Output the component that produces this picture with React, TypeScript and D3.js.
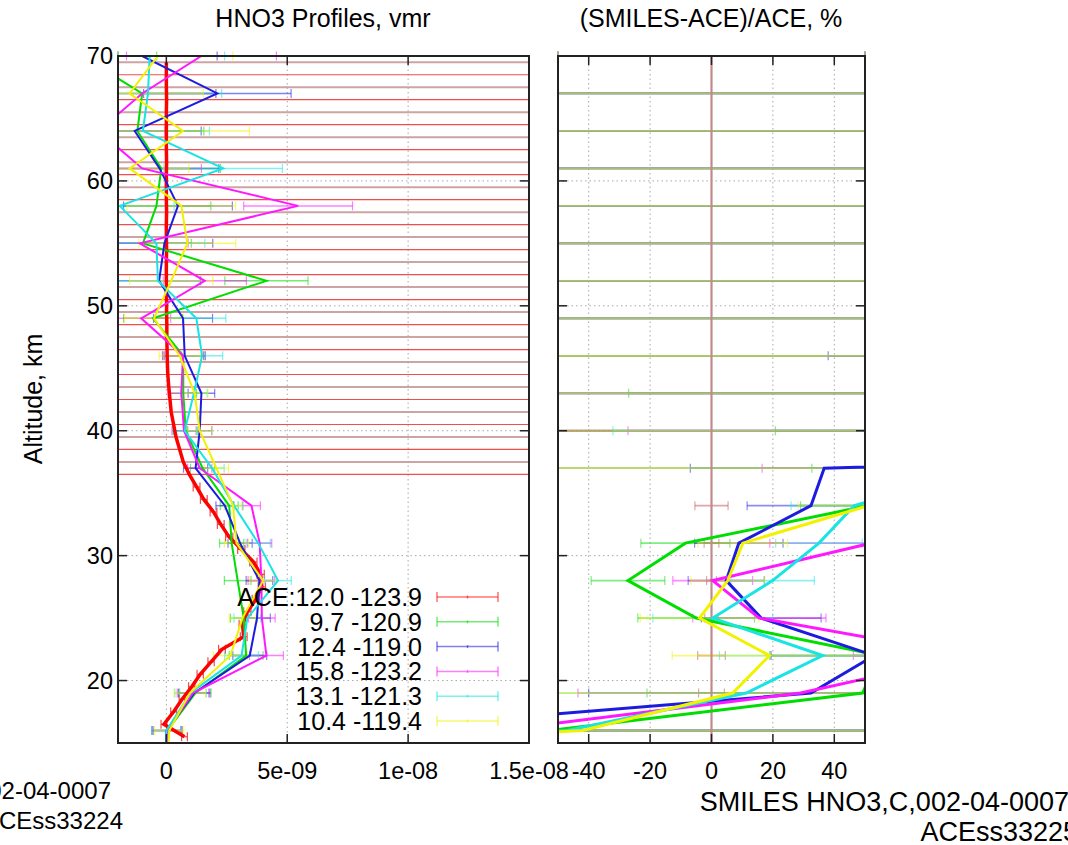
import React from "react";
import * as d3 from "d3";

// ---------------- DATA ----------------
const VMR_UNIT = 1e-9;

// ACE profile (red), values in units of 1e-9 vmr
const aceAlt = [15.5, 16.5, 17.5, 18.5, 19.5, 20.5, 21.5, 22.5, 23.5, 24.5, 25.5, 26.5, 27.5, 28.5, 29.5, 30.5, 31.5, 32.5, 33.5, 34.5, 35.5, 36.5, 37.5, 38.5, 39.5, 40.5, 41.5, 42.5, 43.5, 44.5, 45.5, 46.5, 47.5, 48.5, 49.5, 50.5, 51.5, 52.5, 53.5, 54.5, 55.5, 56.5, 57.5, 58.5, 59.5, 60.5, 61.5, 62.5, 63.5, 64.5, 65.5, 66.5, 67.5, 68.5, 69.5];
const aceVmr = [0.75, -0.1, 0.3, 0.65, 1.05, 1.4, 1.85, 2.3, 3.2, 3.15, 3.35, 3.7, 3.95, 3.9, 3.6, 3.1, 2.6, 2.25, 1.95, 1.55, 1.25, 0.95, 0.7, 0.55, 0.4, 0.3, 0.2, 0.15, 0.1, 0.06, 0.04, 0.03, 0.02, 0.02, 0.01, 0.01, 0.0, 0.0, 0.0, 0.01, 0.0, 0.0, 0.01, 0.0, 0.0, 0.0, 0.01, 0.0, 0.0, 0.0, 0.0, 0.01, 0.0, 0.0, 0.0];
const aceErr = [0.12, 0.12, 0.12, 0.12, 0.13, 0.13, 0.13, 0.14, 0.14, 0.14, 0.15, 0.15, 0.15, 0.15, 0.15, 0.15, 0.15, 0.14, 0.14, 0.14, 0.14, 40, 40, 40, 40, 40, 40, 40, 40, 40, 40, 40, 40, 40, 40, 40, 40, 40, 40, 40, 40, 40, 40, 40, 40, 40, 40, 40, 40, 40, 40, 40, 40, 40, 40];

// SMILES profiles (units of 1e-9 vmr)
const smilesAlt = [13, 16, 19, 22, 25, 28, 31, 34, 37, 40, 43, 46, 49, 52, 55, 58, 61, 64, 67, 70];
const greenVmr = [0.05, 0.05, 1.2, 3.3, 3.2, 2.95, 2.7, 2.6, 1.5, 0.8, 0.7, 0.7, -0.55, 4.14, -0.97, -0.41, -0.21, -1.2, -1.0, -3.5];
const blueVmr = [-0.05, 0.0, 1.15, 3.45, 3.75, 3.85, 3.05, 2.42, 1.21, 1.38, 1.45, 0.76, 0.69, -0.3, -0.08, 0.48, -0.28, -1.31, 2.11, -1.0];
const magentaVmr = [0.0, 0.05, 1.1, 4.14, 3.95, 3.93, 3.86, 3.52, 1.38, 0.73, 0.62, 0.69, -1.04, 1.59, -1.1, 5.45, -1.0, -2.8, -1.0, 1.45];
const cyanVmr = [0.0, 0.0, 1.0, 3.11, 3.35, 4.62, 3.8, 2.8, 1.89, 0.76, 1.14, 1.48, 1.24, -0.35, -0.41, -1.93, 2.35, -0.97, -0.76, -0.69];
const yellowVmr = [0.05, 0.12, 0.97, 2.65, 3.15, 4.0, 2.9, 2.76, 2.07, 1.38, 1.17, 0.55, -0.51, 0.2, 0.87, 0.62, -1.52, 0.69, -1.52, -0.35];
const smilesErr = [0.6, 0.6, 0.65, 0.7, 0.55, 0.55, 0.5, 0.37, 0.5, 0.5, 0.55, 0.85, 1.22, 1.72, 2.0, 2.25, 2.45, 2.75, 3.05, 3.1];

// (SMILES-ACE)/ACE, %
const aceDiff = [0, 0, 0, 0, 0, 0, 0, 0, 0, 0, 0, 0, 0, 0, 0, 0, 0, 0, 0, 0];
const aceDiffErr = [300, 250, 4.2, 4.5, 2.2, 1.6, 2.4, 5.4, 1000, 1000, 1000, 1000, 1000, 1000, 1000, 1000, 1000, 1000, 1000, 1000];
const greenDiff = [-300, -53, 49.2, 55, -5, -27.2, -8.5, 51, 150, 300, 400, 350, 500, 450, 500, 400, 500, 450, 500, 400];
const greenDiffErr = [300, 250, 70.2, 36, 19, 12, 14.5, 22, 117.3, 279.2, 427, 500, 800, 800, 800, 800, 800, 800, 800, 800];
const blueDiff = [-400, -116, 32.4, 53, 16.2, 4.8, 8.9, 32.4, 36.7, 500, 550, 600, 500, 450, 500, 400, 500, 450, 500, 400];
const blueDiffErr = [400, 250, 72.4, 33.6, 19.5, 12.4, 14.4, 20.8, 43.6, 600, 700, 562, 800, 800, 800, 800, 800, 800, 800, 800];
const magentaDiff = [-300, -70, 29, 84, 15.6, 0.4, 52, 120, 120, 250, 300, 400, 500, 450, 500, 400, 500, 450, 500, 400];
const magentaDiffErr = [300, 250, 72.5, 37.8, 21.7, 13, 33, 60, 103.5, 277.2, 500, 600, 800, 800, 800, 800, 800, 800, 800, 800];
const cyanDiff = [-300, -47, 11.3, 36.2, 0.4, 19.9, 35, 46.5, 90, 200, 300, 400, 500, 450, 500, 400, 500, 450, 500, 400];
const cyanDiffErr = [300, 250, 70, 33.6, 19.5, 13.6, 14.1, 20.6, 150, 232.1, 500, 600, 800, 800, 800, 800, 800, 800, 800, 800];
const yellowDiff = [-300, -42, 6.9, 18.9, -3.9, 5.3, 10.2, 51, 100, 400, 400, 400, 500, 450, 500, 400, 500, 450, 500, 400];
const yellowDiffErr = [300, 250, 70, 31.7, 19.3, 12, 14.6, 22.8, 160, 500, 600, 600, 800, 800, 800, 800, 800, 800, 800, 800];

const legendLabels = ["ACE:12.0 -123.9", "9.7 -120.9", "12.4 -119.0", "15.8 -123.2", "13.1 -121.3", "10.4 -119.4"];
const seriesColors = ["#ff0000", "#00dd00", "#1c1ce0", "#ff18ff", "#18e4e4", "#f2f200"];

const leftXTicks = [0, 5e-9, 1e-8, 1.5e-8];
const leftXTickLabels = ["0", "5e-09", "1e-08", "1.5e-08"];
const rightXTicks = [-40, -20, 0, 20, 40];
const rightXTickLabels = ["-40", "-20", "0", "20", "40"];
const yTicks = [20, 30, 40, 50, 60, 70];

const leftTitle = "HNO3 Profiles, vmr";
const rightTitle = "(SMILES-ACE)/ACE, %";
const yTitle = "Altitude, km";
const footLeft = ["SMILES HNO3,C,002-04-0007", "ACEss33224"];
const footRight = ["SMILES HNO3,C,002-04-0007", "ACEss33225"];

// ---------------- DRAWING ----------------
const FONT = "'Liberation Sans', Arial, Helvetica, sans-serif";
const W = 1068;
const H = 845;
const TOP = 56;
const BOTTOM = 743;
const TICK_FS = 23.5;

type S = d3.ScaleLinear<number, number>;

function ErrorBars(props: {
  xs: S; ys: S; alts: number[]; vals: number[]; errs: number[]; unit: number;
  color: string; width: number; opacity: number; altColor?: string; idp: string;
}) {
  const { xs, ys, alts, vals, errs, unit, color, width, opacity, altColor, idp } = props;
  const [r0, r1] = xs.range();
  const out: JSX.Element[] = [];
  alts.forEach((a, i) => {
    const y = ys(a);
    if (y < TOP - 1 || y > BOTTOM + 1) return;
    const lo = xs((vals[i] - errs[i]) * unit);
    const hi = xs((vals[i] + errs[i]) * unit);
    if (hi < r0 || lo > r1) return;
    const a0 = Math.max(r0, lo);
    const a1 = Math.min(r1, hi);
    const full = lo <= r0 && hi >= r1;
    const c = altColor && full && i % 2 === 0 ? altColor : color;
    const w = altColor && full && i % 2 === 0 ? 2 : width;
    out.push(
      <g key={idp + i} stroke={c} strokeOpacity={opacity} strokeWidth={w}>
        <line x1={a0} x2={a1} y1={y} y2={y} />
        <line x1={a0} x2={a0} y1={y - 4.5} y2={y + 4.5} strokeWidth={1.2} />
        <line x1={a1} x2={a1} y1={y - 4.5} y2={y + 4.5} strokeWidth={1.2} />
      </g>
    );
  });
  return <g>{out}</g>;
}

function Frame(props: { xs: S; ys: S; xTicks: number[]; xLabels?: string[]; yLabels: boolean }) {
  const { xs, ys, xTicks, xLabels, yLabels } = props;
  const [x0, x1] = xs.range();
  const tl = 9;
  return (
    <g>
      {xTicks.map((t, i) => (
        <g key={"xt" + i} stroke="#222" strokeWidth={1.5}>
          <line x1={xs(t)} x2={xs(t)} y1={TOP} y2={TOP + tl} />
          <line x1={xs(t)} x2={xs(t)} y1={BOTTOM} y2={BOTTOM - tl} />
        </g>
      ))}
      {yTicks.map((t, i) => (
        <g key={"yt" + i} stroke="#222" strokeWidth={1.5}>
          <line x1={x0} x2={x0 + tl} y1={ys(t)} y2={ys(t)} />
          <line x1={x1} x2={x1 - tl} y1={ys(t)} y2={ys(t)} />
        </g>
      ))}
      <rect x={x0} y={TOP} width={x1 - x0} height={BOTTOM - TOP} fill="none" stroke="#222" strokeWidth={2} />
      {xLabels &&
        xTicks.map((t, i) => (
          <text key={"xl" + i} x={xs(t)} y={779} textAnchor="middle" fontSize={TICK_FS} fontFamily={FONT} fill="#000">
            {xLabels[i]}
          </text>
        ))}
      {yLabels &&
        yTicks.map((t, i) => (
          <text key={"yl" + i} x={x0 - 5} y={ys(t) + 8} textAnchor="end" fontSize={TICK_FS} fontFamily={FONT} fill="#000">
            {t}
          </text>
        ))}
    </g>
  );
}

function Grid(props: { xs: S; ys: S; xg: number[] }) {
  const { xs, ys, xg } = props;
  const [x0, x1] = xs.range();
  return (
    <g stroke="#a8a8a8" strokeWidth={1} strokeDasharray="1.5,3">
      {xg.map((t, i) => (
        <line key={"gx" + i} x1={xs(t)} x2={xs(t)} y1={TOP} y2={BOTTOM} />
      ))}
      {yTicks.filter((t) => t < 70).map((t, i) => (
        <line key={"gy" + i} x1={x0} x2={x1} y1={ys(t)} y2={ys(t)} />
      ))}
    </g>
  );
}

export default function App() {
  const ys = d3.scaleLinear().domain([15, 70]).range([BOTTOM, TOP]);
  const xL = d3.scaleLinear().domain([-2e-9, 1.5e-8]).range([118, 529]);
  const xR = d3.scaleLinear().domain([-50, 50]).range([558, 865]);

  const smilesVmr = [greenVmr, blueVmr, magentaVmr, cyanVmr, yellowVmr];
  const diffs = [aceDiff, greenDiff, blueDiff, magentaDiff, cyanDiff, yellowDiff];
  const diffErrs = [aceDiffErr, greenDiffErr, blueDiffErr, magentaDiffErr, cyanDiffErr, yellowDiffErr];

  const lineL = (vals: number[], alts: number[]) =>
    d3.line<number>().x((v) => xL(v * VMR_UNIT)).y((_, i) => ys(alts[i]))(vals) || "";
  const lineR = (vals: number[], alts: number[]) =>
    d3.line<number>().x((v) => xR(v)).y((_, i) => ys(alts[i]))(vals) || "";

  const legendY0 = 597;
  const legendDy = 24.8;

  return (
    <div style={{ position: "absolute", left: 0, top: 0, width: W, height: H }}>
      <svg width={W} height={H} style={{ display: "block", background: "#fff" }}>
        <defs>
          <clipPath id="clipL">
            <rect x={118} y={TOP} width={529 - 118} height={BOTTOM - TOP} />
          </clipPath>
          <clipPath id="clipR">
            <rect x={558} y={TOP} width={865 - 558} height={BOTTOM - TOP} />
          </clipPath>
        </defs>

        <Grid xs={xL} ys={ys} xg={[0, 5e-9, 1e-8]} />
        <Grid xs={xR} ys={ys} xg={[-40, -20, 20, 40]} />

        {/* Left panel error bars */}
        <ErrorBars xs={xL} ys={ys} alts={aceAlt} vals={aceVmr} errs={aceErr} unit={VMR_UNIT}
          color="#f03a3a" altColor="#c89a9a" width={1.2} opacity={0.9} idp="ace" />
        {smilesVmr.map((v, k) => (
          <ErrorBars key={"le" + k} xs={xL} ys={ys} alts={smilesAlt} vals={v} errs={smilesErr} unit={VMR_UNIT}
            color={seriesColors[k + 1]} width={1.5} opacity={0.55} idp={"l" + k} />
        ))}

        {/* Right panel error bars */}
        {diffs.map((v, k) => (
          <ErrorBars key={"re" + k} xs={xR} ys={ys} alts={smilesAlt} vals={v} errs={diffErrs[k]} unit={1}
            color={k === 0 ? "#c05050" : seriesColors[k]} width={1.8} opacity={0.5} idp={"r" + k} />
        ))}

        {/* Left panel lines */}
        <g clipPath="url(#clipL)" fill="none" strokeLinejoin="miter">
          <path d={lineL(aceVmr, aceAlt)} stroke={seriesColors[0]} strokeWidth={3.5} />
          {smilesVmr.map((v, k) => (
            <path key={"ll" + k} d={lineL(v, smilesAlt)} stroke={seriesColors[k + 1]} strokeWidth={2} />
          ))}
        </g>

        {/* Right panel lines */}
        <g clipPath="url(#clipR)" fill="none">
          <path d={lineR(aceDiff, smilesAlt)} stroke="#c08a8a" strokeWidth={2.2} />
          {diffs.slice(1).map((v, k) => (
            <path key={"rl" + k} d={lineR(v, smilesAlt)} stroke={seriesColors[k + 1]} strokeWidth={3} />
          ))}
        </g>

        <Frame xs={xL} ys={ys} xTicks={leftXTicks} xLabels={leftXTickLabels} yLabels={true} />
        <Frame xs={xR} ys={ys} xTicks={rightXTicks} xLabels={rightXTickLabels} yLabels={false} />

        {/* Titles */}
        <text x={323} y={27} textAnchor="middle" fontSize={25} fontFamily={FONT}>{leftTitle}</text>
        <text x={711} y={27} textAnchor="middle" fontSize={25} fontFamily={FONT}>{rightTitle}</text>
        <text transform="translate(42,399) rotate(-90)" textAnchor="middle" fontSize={25} fontFamily={FONT}>{yTitle}</text>

        {/* Legend */}
        {legendLabels.map((lab, i) => {
          const y = legendY0 + i * legendDy;
          return (
            <g key={"lg" + i}>
              <text x={422} y={y + 9} textAnchor="end" fontSize={25} fontFamily={FONT}>{lab}</text>
              <g stroke={seriesColors[i]} strokeOpacity={0.55} strokeWidth={1.5}>
                <line x1={437} x2={498} y1={y} y2={y} />
                <line x1={437} x2={437} y1={y - 5} y2={y + 5} />
                <line x1={498} x2={498} y1={y - 5} y2={y + 5} />
                <line x1={467.5} x2={467.5} y1={y - 1.5} y2={y + 1.5} />
              </g>
            </g>
          );
        })}

        {/* Footers */}
        <text x={111} y={799} textAnchor="end" fontSize={24} fontFamily={FONT}>{footLeft[0]}</text>
        <text x={123} y={829} textAnchor="end" fontSize={24} fontFamily={FONT}>{footLeft[1]}</text>
        <text x={1069} y={811} textAnchor="end" fontSize={27} fontFamily={FONT}>{footRight[0]}</text>
        <text x={1078} y={841} textAnchor="end" fontSize={27} fontFamily={FONT}>{footRight[1]}</text>
      </svg>
    </div>
  );
}
